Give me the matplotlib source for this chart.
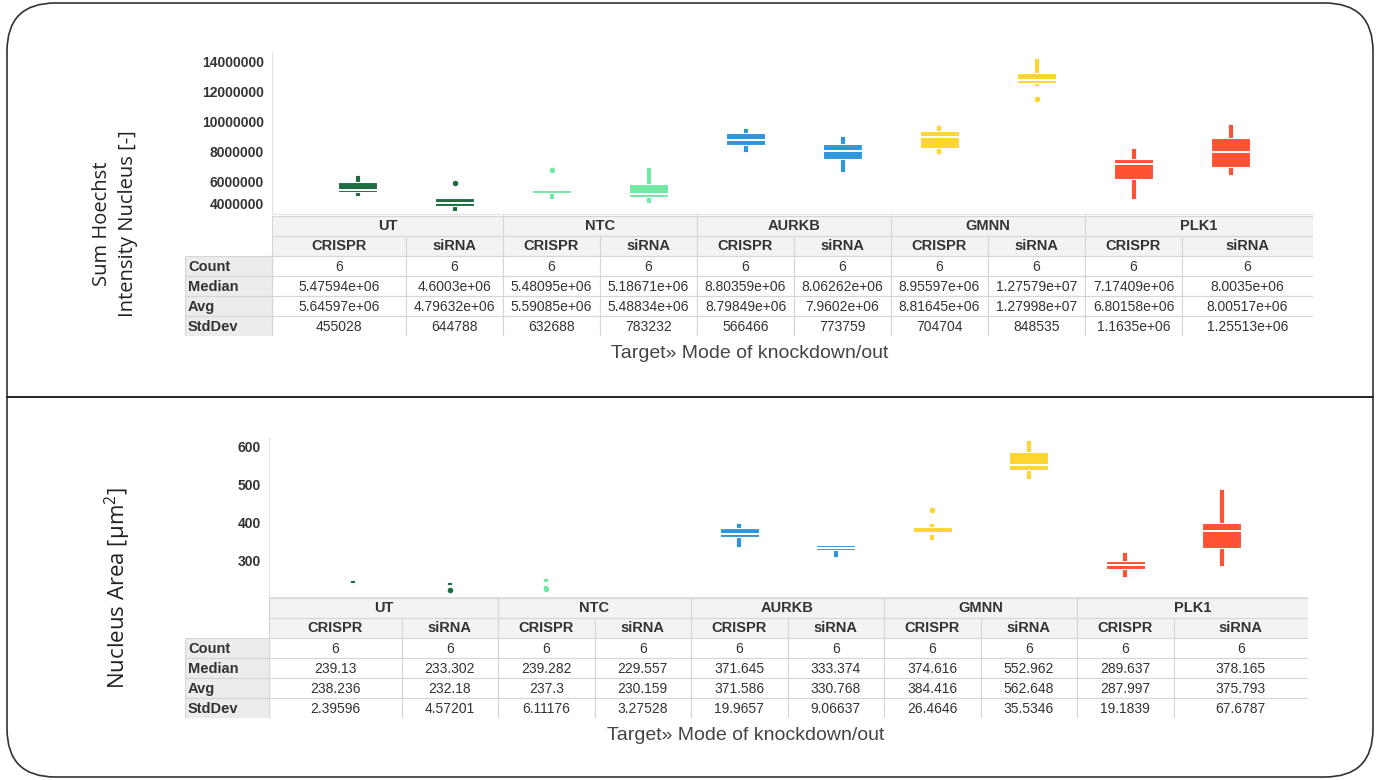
import numpy as np
import matplotlib.pyplot as plt
from matplotlib.patches import FancyBboxPatch, Rectangle

W, H = 1379, 780

# DATA
groups = ["UT", "NTC", "AURKB", "GMNN", "PLK1"]
modes = ["CRISPR", "siRNA"] * 5
colors = ["#1f6e43", "#1f6e43", "#72e8a5", "#72e8a5", "#2f96dc",
          "#2f96dc", "#fdd531", "#fdd531", "#ff5133", "#ff5133"]
stat_names = ["Count", "Median", "Avg", "StdDev"]
count = [6] * 10

# top panel: Sum Hoechst Intensity Nucleus
hoechst_median = [5.47594e6, 4.6003e6, 5.48095e6, 5.18671e6, 8.80359e6,
                  8.06262e6, 8.95597e6, 1.27579e7, 7.17409e6, 8.0035e6]
hoechst_avg = [5.64597e6, 4.79632e6, 5.59085e6, 5.48834e6, 8.79849e6,
               7.9602e6, 8.81645e6, 1.27998e7, 6.80158e6, 8.00517e6]
hoechst_std = [455028, 644788, 632688, 783232, 566466,
               773759, 704704, 848535, 1.1635e6, 1.25513e6]
hoechst_q1 = [5.33e6, 4.40e6, 5.22e6, 5.00e6, 8.43e6, 7.53e6, 8.22e6, 12.60e6, 6.16e6, 6.96e6]
hoechst_q3 = [6.00e6, 4.89e6, 5.58e6, 5.84e6, 9.27e6, 8.49e6, 9.40e6, 13.27e6, 7.49e6, 8.93e6]
hoechst_lo = [5.18e6, 4.18e6, 5.00e6, 4.73e6, 8.11e6, 6.78e6, 8.00e6, 12.55e6, 5.00e6, 6.60e6]
hoechst_hi = [6.22e6, 4.89e6, 5.58e6, 6.78e6, 9.40e6, 8.83e6, 9.56e6, 14.05e6, 8.07e6, 9.63e6]
hoechst_fliers = [[], [5.93e6], [6.78e6], [], [], [], [], [11.49e6], [], []]

# bottom panel: Nucleus Area
area_median = [239.13, 233.302, 239.282, 229.557, 371.645,
               333.374, 374.616, 552.962, 289.637, 378.165]
area_avg = [238.236, 232.18, 237.3, 230.159, 371.586,
            330.768, 384.416, 562.648, 287.997, 375.793]
area_std = [2.39596, 4.57201, 6.11176, 3.27528, 19.9657,
            9.06637, 26.4646, 35.5346, 19.1839, 67.6787]
area_q1 = [237, 232.5, 236, 229, 363, 329, 372, 539, 278, 334]
area_q3 = [240, 234.5, 244, 230.5, 387, 341, 389, 586, 299, 399]
area_lo = [236, 232, 234, 229, 341, 316, 360, 521, 264, 293]
area_hi = [241, 236, 246, 231, 393, 341, 391, 609, 316, 482]
area_fliers = [[], [224], [226], [], [], [], [434], [], [], []]

FONT = "Liberation Sans"
TXT = "#333333"

fig = plt.figure(figsize=(W / 100, H / 100), dpi=100)


def px_axes(x0, y0, x1, y1):
    return fig.add_axes([x0 / W, 1 - y1 / H, (x1 - x0) / W, (y1 - y0) / H])


def draw_panel(ax_px, first, step, ylim, yticks, ytick_labels,
               med, q1, q3, lo, hi, fliers, table_top, stats):
    x0, y0, x1, y1 = ax_px
    xlim = ((x0 - first) / step, (x1 - first) / step)
    ax = px_axes(x0, y0, x1, y1)
    bstats = []
    for i in range(10):
        bstats.append(dict(med=med[i], q1=q1[i], q3=q3[i], whislo=lo[i],
                           whishi=hi[i], fliers=fliers[i]))
    art = ax.bxp(bstats, positions=range(10), widths=0.40, patch_artist=True,
                 showcaps=False, manage_ticks=False,
                 medianprops=dict(color="white", linewidth=1.4),
                 whiskerprops=dict(linewidth=3),
                 boxprops=dict(edgecolor="white", linewidth=0.8))
    for i, c in enumerate(colors):
        art["boxes"][i].set_facecolor(c)
        for w in art["whiskers"][2 * i:2 * i + 2]:
            w.set_color(c)
            w.set_zorder(1)
        art["fliers"][i].set(marker="o", markersize=3, markerfacecolor=c,
                             markeredgecolor=c)
    ax.set_xlim(xlim)
    ax.set_ylim(ylim)
    ax.set_yticks(yticks)
    ax.set_yticklabels(ytick_labels, fontfamily=FONT, fontweight="bold",
                       fontsize=10, color=TXT)
    ax.set_xticks([1.5, 3.5, 5.5, 7.5])
    ax.set_xticklabels([])
    ax.tick_params(axis="y", length=0, pad=6)
    ax.tick_params(axis="x", length=4, color="#dddddd")
    for s in ["top", "right"]:
        ax.spines[s].set_visible(False)
    for s in ["left", "bottom"]:
        ax.spines[s].set_color("#e3e3e3")

    # stats table under the plot
    left_px = 185
    tx = px_axes(left_px, table_top, x1, table_top + 120)
    tx.set_xlim((left_px - first) / step, xlim[1])
    tx.set_ylim(6, 0)
    tx.axis("off")
    edges = [xlim[0]] + [i + 0.5 for i in range(9)] + [xlim[1]]
    hdr = (left_px - first) / step
    kw = dict(edgecolor="#d6d6d6", linewidth=0.8)
    gedges = [xlim[0], 1.5, 3.5, 5.5, 7.5, xlim[1]]
    for g in range(5):
        tx.add_patch(Rectangle((gedges[g], 0), gedges[g + 1] - gedges[g], 1,
                               facecolor="#f3f3f3", **kw))
        tx.text((gedges[g] + gedges[g + 1]) / 2, 0.5, groups[g], ha="center",
                va="center", fontfamily=FONT, fontweight="bold", fontsize=10.5,
                color=TXT)
    for i in range(10):
        xa, xb = edges[i], edges[i + 1]
        tx.add_patch(Rectangle((xa, 1), xb - xa, 1, facecolor="#f3f3f3", **kw))
        tx.text((xa + xb) / 2, 1.5, modes[i], ha="center", va="center",
                fontfamily=FONT, fontweight="bold", fontsize=10.5, color=TXT)
        for r in range(4):
            tx.add_patch(Rectangle((xa, 2 + r), xb - xa, 1, facecolor="white", **kw))
            tx.text((xa + xb) / 2, 2.55 + r, "{:g}".format(stats[r][i]),
                    ha="center", va="center", fontfamily=FONT, fontsize=10,
                    color=TXT)
    for r in range(4):
        tx.add_patch(Rectangle((hdr, 2 + r), xlim[0] - hdr, 1,
                               facecolor="#ececec", **kw))
        tx.text(hdr + 0.03, 2.55 + r, stat_names[r], ha="left", va="center",
                fontfamily=FONT, fontweight="bold", fontsize=10.5, color=TXT)
    return ax


ax_top = draw_panel((272, 52, 1313, 214), 357.5, 97, (3.85e6, 14.65e6),
                    [4e6, 6e6, 8e6, 10e6, 12e6, 14e6],
                    ["4000000", "6000000", "8000000", "10000000", "12000000", "14000000"],
                    hoechst_median, hoechst_q1, hoechst_q3, hoechst_lo, hoechst_hi,
                    hoechst_fliers, 216,
                    [count, hoechst_median, hoechst_avg, hoechst_std])
ax_top.get_yticklabels()[0].set_verticalalignment("bottom")

draw_panel((269, 437, 1308, 597), 353.25, 96.5, (205, 626),
           [300, 400, 500, 600], ["300", "400", "500", "600"],
           area_median, area_q1, area_q3, area_lo, area_hi,
           area_fliers, 598,
           [count, area_median, area_avg, area_std])

# axis titles
fig.text(115 / W, 1 - 224 / H, "Sum Hoechst\nIntensity Nucleus [-]", rotation=90,
         ha="center", va="center", multialignment="center",
         fontfamily="Open Sans", fontsize=14.5, color="#222222", linespacing=1.35)
fig.text(118 / W, 1 - 588 / H, r"Nucleus Area [$\mathregular{\mu m^2}$]",
         rotation=90, ha="center", va="center", fontfamily="Open Sans",
         fontsize=16, color="#222222")
fig.text(750 / W, 1 - 354 / H, "Target» Mode of knockdown/out", ha="center",
         va="center", fontfamily=FONT, fontsize=14, color="#444444")
fig.text(746 / W, 1 - 735 / H, "Target» Mode of knockdown/out", ha="center",
         va="center", fontfamily=FONT, fontsize=14, color="#444444")

# outer frame with divider
frame = FancyBboxPatch((7 / W, 3 / H), 1366 / W, 774 / H,
                       boxstyle="round,pad=0,rounding_size=0.035",
                       transform=fig.transFigure, facecolor="none",
                       edgecolor="#333333", linewidth=1.2,
                       mutation_aspect=W / H)
fig.patches.append(frame)
fig.add_artist(plt.Line2D([7 / W, 1373 / W], [1 - 397 / H, 1 - 397 / H],
                          transform=fig.transFigure, color="#222222", linewidth=1.4))

fig.savefig("out.png", dpi=100)
